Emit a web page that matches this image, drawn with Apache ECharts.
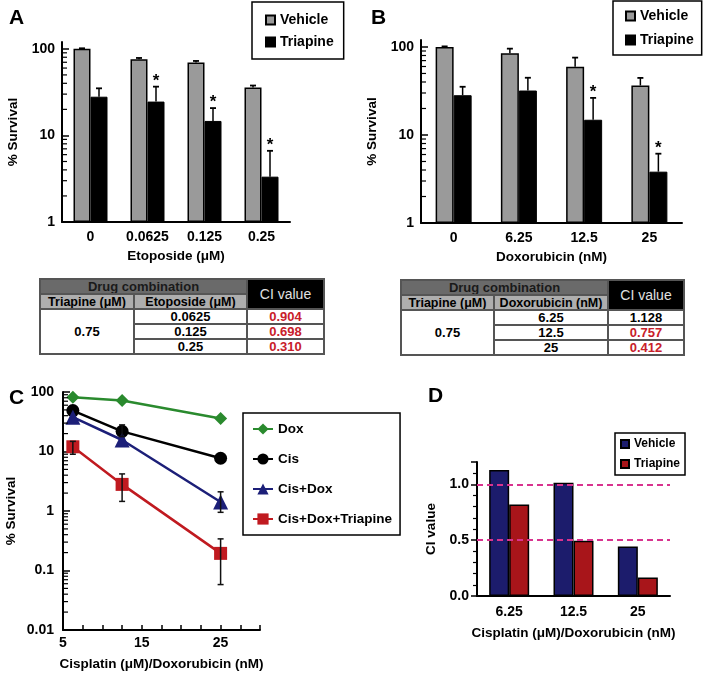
<!DOCTYPE html>
<html><head><meta charset="utf-8">
<script src="https://cdn.jsdelivr.net/npm/echarts@6/dist/echarts.min.js"></script>
<style>
html,body{margin:0;padding:0;background:#fff}
body{width:703px;height:673px;position:relative;overflow:hidden;font-family:"Liberation Sans",Arial,sans-serif}
.pan{position:absolute}
table.ci{position:absolute;border-collapse:collapse;table-layout:fixed;font-family:"Liberation Sans",Arial,sans-serif;font-size:13px;font-weight:bold;border:2px solid #555;color:#000;background:#fff}
table.ci td,table.ci th{border:2px solid #555;padding:0;text-align:center;line-height:12px;overflow:hidden;white-space:nowrap}
table.ci th.h1{background:#6a6a6a;color:#1a1a1a;font-size:13px}
table.ci th.h2{background:#aeaeae;color:#000;font-size:12.5px}
table.ci th.h3{background:#000;color:#e0e0e0;font-weight:normal;font-size:14px}
table.ci td.red{color:#c8202a}
</style>
</head><body>
<div id="pA" class="pan" style="left:0;top:0;width:350px;height:275px"></div>
<div id="pB" class="pan" style="left:350px;top:0;width:353px;height:275px"></div>
<div id="pC" class="pan" style="left:0;top:380px;width:420px;height:293px"></div>
<div id="pD" class="pan" style="left:420px;top:380px;width:283px;height:293px"></div>
<script>
// ---------- Panel A data ----------
const catsA = ['0', '0.0625', '0.125', '0.25'];
const vehA = [100, 76, 69.5, 35.7];
const vehErrA = [1.5, 2.5, 3, 2];
const triA = [28, 24.6, 14.7, 3.34];
const triErrA = [7, 12, 6, 3.3];
const starsA = ['', '*', '*', '*'];

// ---------- Panel B data ----------
const catsB = ['0', '6.25', '12.5', '25'];
const vehB = [100, 84.7, 59.7, 36.5];
const vehErrB = [1.5, 11, 16, 8];
const triB = [28.3, 32, 14.9, 3.83];
const triErrB = [7, 12.7, 11.5, 2.3];
const starsB = ['', '', '*', '*'];

// ---------- Tables ----------
const tblTriapine = '0.75';
const tblEtoposide = ['0.0625', '0.125', '0.25'];
const tblCIa = ['0.904', '0.698', '0.310'];
const tblDoxorubicin = ['6.25', '12.5', '25'];
const tblCIb = ['1.128', '0.757', '0.412'];

// ---------- Panel C data ----------
const doseC = [6.25, 12.5, 25];
const xLabelsC = [5, 15, 25];
const doxC = [82, 72, 36];
const cisC = [48.7, 21.8, 7.7];
const cisLoC = [null, 17.8, null];
const cisHiC = [null, 28, null];
const cisDoxC = [37.7, 15.6, 1.42];
const cisDoxLoC = [null, null, 0.95];
const cisDoxHiC = [null, null, 2.1];
const tripleC = [12, 2.8, 0.194];
const tripleLoC = [9, 1.45, 0.058];
const tripleHiC = [14.8, 4.2, 0.34];

// ---------- Panel D data ----------
const catsD = ['6.25', '12.5', '25'];
const vehD = [1.128, 1.015, 0.444];
const triD = [0.82, 0.495, 0.165];
const refLinesD = [1.0, 0.5];

const FONT = '"Liberation Sans", Arial, sans-serif';
const lblStyle = {color: '#000', fontWeight: 'bold', fontSize: 14, fontFamily: FONT};
const nameStyle = {color: '#000', fontWeight: 'bold', fontSize: 13.5, fontFamily: FONT};

function minorLogTicks(minExp, maxExp, xVal, len) {
  const vals = [];
  for (let e = minExp; e < maxExp; e++) for (let k = 2; k <= 9; k++) vals.push([xVal, k * Math.pow(10, e)]);
  return {
    type: 'custom', silent: true, z: 6, data: vals,
    renderItem(params, api) {
      const y = api.coord([api.value(0), api.value(1)])[1];
      const x = params.coordSys.x;
      return {type: 'line', shape: {x1: x, y1: y, x2: x + len, y2: y}, style: {stroke: '#000', lineWidth: 1.2}};
    }
  };
}

function barErrSeries(vals, errs, sign, bw, stars) {
  return {
    type: 'custom', silent: true, z: 10,
    data: vals.map((v, i) => [i, v, v + errs[i]]),
    renderItem(params, api) {
      const i = params.dataIndex;
      const p = api.coord([api.value(0), api.value(1)]);
      const q = api.coord([api.value(0), api.value(2)]);
      const x = p[0] + sign * bw / 2;
      const ch = [
        {type: 'line', shape: {x1: x, y1: p[1], x2: x, y2: q[1]}, style: {stroke: '#000', lineWidth: 1.5}},
        {type: 'line', shape: {x1: x - 3, y1: q[1], x2: x + 3, y2: q[1]}, style: {stroke: '#000', lineWidth: 1.8}}
      ];
      if (stars && stars[i]) {
        ch.push({type: 'text', x: x, y: q[1] + 3, style: {text: stars[i], align: 'center', verticalAlign: 'bottom', font: 'bold 17px ' + FONT, fill: '#000'}});
      }
      return {type: 'group', children: ch};
    }
  };
}

function barPanel(id, letter, letterLeft, grid, cats, veh, vehErr, tri, triErr, stars, xName, bw, legendPos) {
  const chart = echarts.init(document.getElementById(id), null, {renderer: 'canvas'});
  chart.setOption({
    animation: false,
    title: {text: letter, left: letterLeft, top: 3, textStyle: {fontSize: 21, fontWeight: 'bold', color: '#000', fontFamily: FONT}},
    legend: Object.assign({
      data: ['Vehicle', 'Triapine'], orient: 'vertical', icon: 'rect', itemWidth: 9, itemHeight: 9,
      itemGap: 8, borderColor: '#000', borderWidth: 1.5, selectedMode: false,
      textStyle: {color: '#000', fontWeight: 'bold', fontSize: 14, fontFamily: FONT}
    }, legendPos),
    grid: Object.assign({outerBoundsMode: 'none'}, grid),
    xAxis: {
      type: 'category', data: cats,
      axisLine: {lineStyle: {color: '#000', width: 2}}, axisTick: {show: false},
      axisLabel: Object.assign({margin: 8}, lblStyle),
      name: xName, nameLocation: 'middle', nameGap: 26, nameTextStyle: nameStyle
    },
    yAxis: {
      type: 'log', logBase: 10, min: 1, max: 120,
      axisLine: {show: true, lineStyle: {color: '#000', width: 2}},
      axisTick: {show: true, inside: true, length: 7, lineStyle: {color: '#000', width: 1.5}},
      splitLine: {show: false},
      axisLabel: Object.assign({margin: 7, showMaxLabel: false}, lblStyle),
      name: '% Survival', nameLocation: 'middle', nameGap: 40, nameTextStyle: nameStyle
    },
    series: [
      {name: 'Vehicle', type: 'bar', data: veh, barWidth: bw, barGap: '0%', z: 2,
       itemStyle: {color: '#9a9a9a', borderColor: '#000', borderWidth: 1.5}},
      {name: 'Triapine', type: 'bar', data: tri, barWidth: bw, barGap: '0%', z: 2,
       itemStyle: {color: '#000', borderColor: '#000', borderWidth: 1}},
      barErrSeries(veh, vehErr, -1, bw, null),
      barErrSeries(tri, triErr, 1, bw, stars),
      minorLogTicks(0, 2, 0, 5)
    ]
  });
}

barPanel('pA', 'A', 4, {left: 62, right: 60, top: 42, bottom: 53}, catsA, vehA, vehErrA, triA, triErrA, starsA,
  'Etoposide (μM)', 17, {left: 252, top: 2, padding: [11, 10, 10, 13]});
barPanel('pB', 'B', 16, {left: 71, right: 21, top: 40, bottom: 52}, catsB, vehB, vehErrB, triB, triErrB, starsB,
  'Doxorubicin (nM)', 18, {left: 263, top: 1, padding: [8, 8, 8, 12], itemGap: 10});

// ---------- Tables ----------
function buildTable(left, top, widths, drugHeader, drugVals, ciVals) {
  const t = document.createElement('table');
  t.className = 'ci';
  t.style.left = left + 'px'; t.style.top = top + 'px';
  t.style.width = widths.reduce((a, b) => a + b, 0) + 'px';
  let h = '<colgroup>' + widths.map(w => '<col style="width:' + w + 'px">').join('') + '</colgroup>';
  h += '<tr style="height:15px"><th colspan="2" class="h1">Drug combination</th><th rowspan="2" class="h3">CI value</th></tr>';
  h += '<tr style="height:15px"><th class="h2">Triapine (μM)</th><th class="h2">' + drugHeader + '</th></tr>';
  drugVals.forEach((d, i) => {
    h += '<tr style="height:15px">';
    if (i === 0) h += '<td rowspan="' + drugVals.length + '">' + tblTriapine + '</td>';
    const red = parseFloat(ciVals[i]) < 1 ? ' class="red"' : '';
    h += '<td>' + d + '</td><td' + red + '>' + ciVals[i] + '</td></tr>';
  });
  t.innerHTML = h;
  document.body.appendChild(t);
}
buildTable(39, 278, [94, 113, 77], 'Etoposide (μM)', tblEtoposide, tblCIa);
buildTable(400, 279, [93, 114, 76], 'Doxorubicin (nM)', tblDoxorubicin, tblCIb);

// ---------- Panel C ----------
function errLineSeries(xs, lo, hi, z) {
  const data = [];
  xs.forEach((x, i) => { if (lo[i] != null) data.push([x, lo[i], hi[i]]); });
  return {
    type: 'custom', silent: true, z: z, data: data,
    renderItem(params, api) {
      const a = api.coord([api.value(0), api.value(1)]);
      const b = api.coord([api.value(0), api.value(2)]);
      return {type: 'group', children: [
        {type: 'line', shape: {x1: a[0], y1: a[1], x2: b[0], y2: b[1]}, style: {stroke: '#111', lineWidth: 1.5}},
        {type: 'line', shape: {x1: a[0] - 3, y1: a[1], x2: a[0] + 3, y2: a[1]}, style: {stroke: '#111', lineWidth: 1.5}},
        {type: 'line', shape: {x1: b[0] - 3, y1: b[1], x2: b[0] + 3, y2: b[1]}, style: {stroke: '#111', lineWidth: 1.5}}
      ]};
    }
  };
}
function lineSeries(name, ys, symbol, size, color) {
  return {name: name, type: 'line', data: doseC.map((x, i) => [x, ys[i]]), symbol: symbol, symbolSize: size,
    lineStyle: {width: 2.5, color: color}, itemStyle: {color: color}, z: 4};
}
const chartC = echarts.init(document.getElementById('pC'), null, {renderer: 'canvas'});
chartC.setOption({
  animation: false,
  title: {text: 'C', left: 4, top: 3, textStyle: {fontSize: 21, fontWeight: 'bold', color: '#000', fontFamily: FONT}},
  legend: {
    data: ['Dox', 'Cis', 'Cis+Dox', 'Cis+Dox+Triapine'], orient: 'vertical', left: 243, top: 33,
    padding: [9, 8, 9, 9], itemWidth: 20, itemHeight: 14, itemGap: 16, selectedMode: false,
    borderColor: '#000', borderWidth: 1.5,
    textStyle: {color: '#000', fontWeight: 'bold', fontSize: 13.5, fontFamily: FONT}
  },
  grid: {outerBoundsMode: 'none', left: 63, right: 160, top: 12, bottom: 43},
  xAxis: {
    type: 'value', min: 5, max: 30, interval: 2.5,
    axisLine: {lineStyle: {color: '#000', width: 2}},
    axisTick: {inside: true, length: 5, lineStyle: {color: '#000', width: 1.5}},
    splitLine: {show: false},
    axisLabel: Object.assign({margin: 6, formatter: v => (xLabelsC.indexOf(v) >= 0 ? String(v) : '')}, lblStyle),
    name: 'Cisplatin (μM)/Doxorubicin (nM)', nameLocation: 'middle', nameGap: 27, nameTextStyle: nameStyle
  },
  yAxis: {
    type: 'log', logBase: 10, min: 0.01, max: 100,
    axisLine: {show: true, lineStyle: {color: '#000', width: 2}},
    axisTick: {show: true, inside: true, length: 7, lineStyle: {color: '#000', width: 1.5}},
    splitLine: {show: false},
    axisLabel: Object.assign({margin: 9, formatter: v => String(+v.toPrecision(3))}, lblStyle),
    name: '% Survival', nameLocation: 'middle', nameGap: 45, nameTextStyle: nameStyle
  },
  series: [
    lineSeries('Dox', doxC, 'diamond', 13, '#2a8a2e'),
    lineSeries('Cis', cisC, 'circle', 13, '#000000'),
    lineSeries('Cis+Dox', cisDoxC, 'triangle', 15, '#1c1f78'),
    lineSeries('Cis+Dox+Triapine', tripleC, 'rect', 13, '#c01a20'),
    errLineSeries(doseC, cisLoC, cisHiC, 6),
    errLineSeries(doseC, cisDoxLoC, cisDoxHiC, 6),
    errLineSeries(doseC, tripleLoC, tripleHiC, 6),
    minorLogTicks(-2, 2, 5, 5)
  ]
});

// ---------- Panel D ----------
const chartD = echarts.init(document.getElementById('pD'), null, {renderer: 'canvas'});
chartD.setOption({
  animation: false,
  title: {text: 'D', left: 3, top: 1, textStyle: {fontSize: 21, fontWeight: 'bold', color: '#000', fontFamily: FONT}},
  legend: {
    data: ['Vehicle', 'Triapine'], orient: 'vertical', left: 195, top: 53, icon: 'rect',
    itemWidth: 8, itemHeight: 8, itemGap: 8, padding: [5, 5, 5, 5], selectedMode: false,
    borderColor: '#000', borderWidth: 1.5,
    textStyle: {color: '#000', fontWeight: 'bold', fontSize: 12, fontFamily: FONT}
  },
  grid: {outerBoundsMode: 'none', left: 57, right: 33, top: 82, bottom: 77},
  xAxis: {
    type: 'category', data: catsD,
    axisLine: {lineStyle: {color: '#000', width: 2}}, axisTick: {show: false},
    axisLabel: Object.assign({margin: 9}, lblStyle),
    name: 'Cisplatin (μM)/Doxorubicin (nM)', nameLocation: 'middle', nameGap: 30, nameTextStyle: nameStyle
  },
  yAxis: {
    type: 'value', min: 0, max: 1.2, interval: 0.5,
    axisLine: {show: true, lineStyle: {color: '#000', width: 2}},
    axisTick: {show: true, length: 6, lineStyle: {color: '#000', width: 1.5}},
    minorTick: {show: true, splitNumber: 5, length: 4, lineStyle: {color: '#000', width: 1.2}},
    splitLine: {show: false},
    axisLabel: Object.assign({margin: 8, showMaxLabel: false, formatter: v => v.toFixed(1)}, lblStyle),
    name: 'CI value', nameLocation: 'middle', nameGap: 38, nameTextStyle: nameStyle
  },
  series: [
    {type: 'line', data: [], z: 1, markLine: {
      silent: true, symbol: 'none', label: {show: false},
      lineStyle: {type: [6, 4], color: '#d8338f', width: 2},
      data: refLinesD.map(v => ({yAxis: v}))
    }},
    {name: 'Vehicle', type: 'bar', data: vehD, barWidth: 20, barGap: '0%', z: 3,
     itemStyle: {color: '#1c1c6c', borderColor: '#000', borderWidth: 1.5}},
    {name: 'Triapine', type: 'bar', data: triD, barWidth: 20, barGap: '0%', z: 3,
     itemStyle: {color: '#a8151a', borderColor: '#000', borderWidth: 1.5}}
  ]
});
</script>
</body></html>
